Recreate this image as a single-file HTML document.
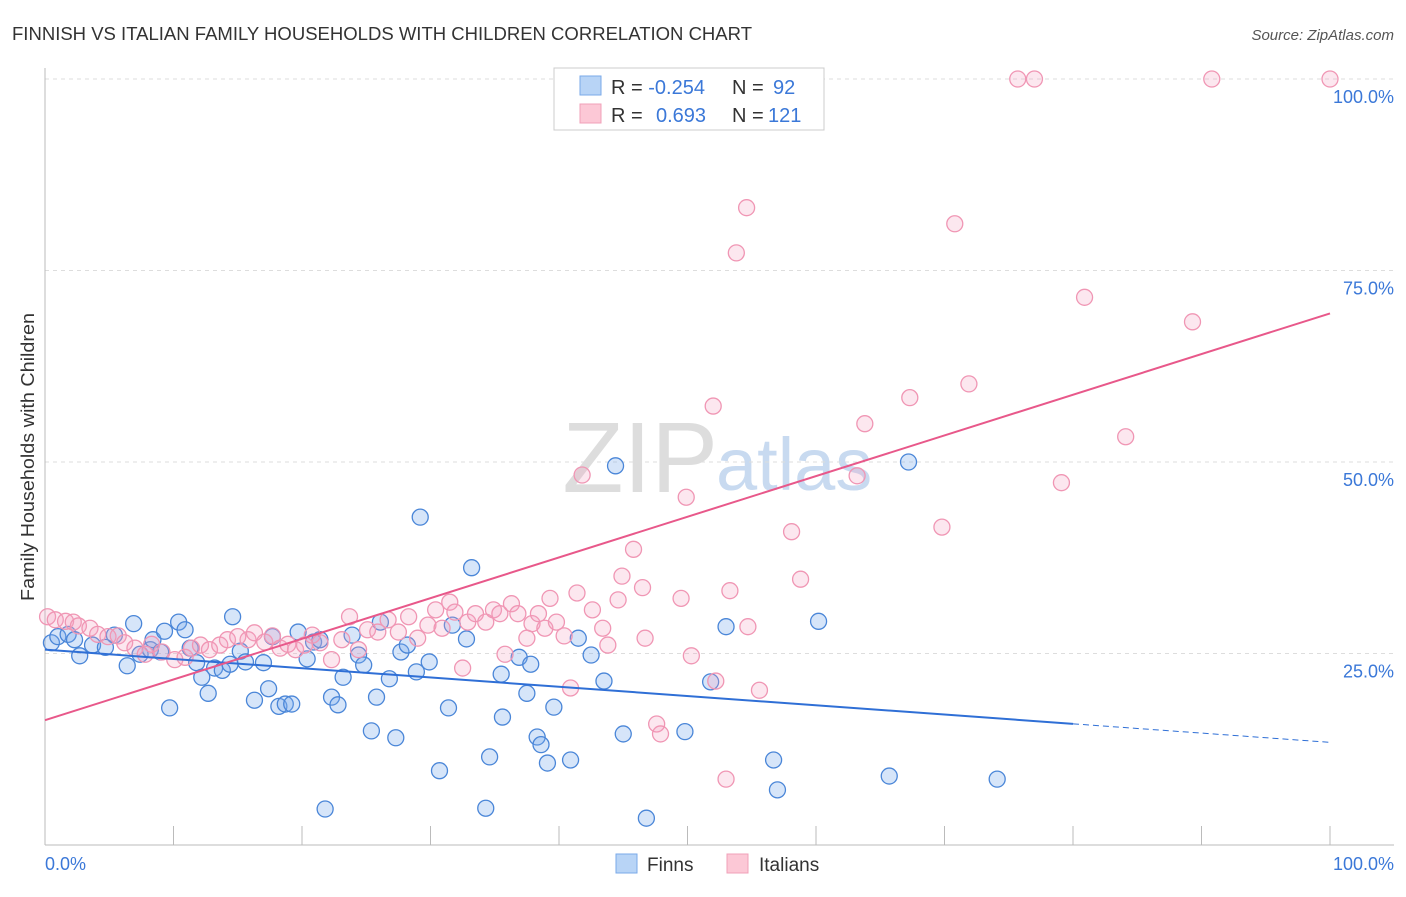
<!DOCTYPE html>
<html><head><meta charset="utf-8"><style>
body{margin:0;background:#fff;font-family:"Liberation Sans",sans-serif;}
svg text{font-family:"Liberation Sans",sans-serif;}
</style></head><body>
<svg id="chart" width="1406" height="892" xmlns="http://www.w3.org/2000/svg">
<text x="12" y="40" font-size="18" fill="#333" textLength="740" lengthAdjust="spacingAndGlyphs">FINNISH VS ITALIAN FAMILY HOUSEHOLDS WITH CHILDREN CORRELATION CHART</text>
<text x="1394" y="40" font-size="15" fill="#555" font-style="italic" text-anchor="end">Source: ZipAtlas.com</text>
<text x="718" y="492" font-size="100" fill="#ddd" font-family="Liberation Serif" text-anchor="end">ZIP</text>
<text x="716" y="490" font-size="74" fill="#c8daf0">atlas</text>
<g id="grid"></g>
<g id="axes"></g>
<g id="pts"></g>
<g id="lines"></g>
<text transform="translate(34,457) rotate(-90)" font-size="18" fill="#333" text-anchor="middle" textLength="288" lengthAdjust="spacingAndGlyphs">Family Households with Children</text>
<text x="45" y="870" font-size="18" fill="#3b78d8">0.0%</text>
<text x="1394" y="870" font-size="18" fill="#3b78d8" text-anchor="end">100.0%</text>
<g>
<rect x="554" y="68" width="270" height="62" fill="#fff" stroke="#ccc"/>
<rect x="580" y="76" width="21" height="19" fill="#b8d4f6" stroke="#7aaae8"/>
<text x="611" y="94" font-size="20" fill="#333">R = <tspan fill="#3b78d8">-0.254</tspan><tspan x="732">N = </tspan><tspan x="773" fill="#3b78d8">92</tspan></text>
<rect x="580" y="104" width="21" height="19" fill="#fcc8d6" stroke="#f0a0b8"/>
<text x="611" y="122" font-size="20" fill="#333">R = <tspan x="656" fill="#3b78d8">0.693</tspan><tspan x="732">N = </tspan><tspan x="768" fill="#3b78d8">121</tspan></text>
</g>
<g>
<rect x="616" y="854" width="21" height="19" fill="#b8d4f6" stroke="#7aaae8"/>
<text x="647" y="871" font-size="19" fill="#333">Finns</text>
<rect x="727" y="854" width="21" height="19" fill="#fcc8d6" stroke="#f0a0b8"/>
<text x="759" y="871" font-size="19" fill="#333">Italians</text>
</g>
</svg>
<script>
const yTicks=[25,50,75,100];
const yTickLabels=["25.0%","50.0%","75.0%","100.0%"];
const xTicks=[0,10,20,30,40,50,60,70,80,90,100];
const finns=[[0.5,26.4],[1,27.2],[1.8,27.5],[2.3,26.8],[2.7,24.7],[3.7,26.1],[4.7,25.8],[5.4,27.4],[6.4,23.4],[6.9,28.9],[7.4,24.9],[8.2,25.5],[8.4,26.8],[9,25.2],[9.3,27.9],[9.7,17.9],[10.4,29.1],[10.9,28.1],[11.3,25.7],[11.8,23.8],[12.2,21.9],[12.7,19.8],[13.2,23.1],[13.8,22.8],[14.4,23.6],[14.6,29.8],[15.2,25.3],[15.6,23.9],[16.3,18.9],[17,23.8],[17.4,20.4],[17.7,27.2],[18.2,18.1],[18.7,18.4],[19.2,18.4],[19.7,27.8],[20.4,24.3],[20.9,26.5],[21.4,26.8],[21.8,4.7],[22.3,19.3],[22.8,18.3],[23.2,21.9],[23.9,27.4],[24.4,24.8],[24.8,23.5],[25.4,14.9],[25.8,19.3],[26.1,29.1],[26.8,21.7],[27.3,14],[27.7,25.2],[28.2,26.1],[28.9,22.6],[29.2,42.8],[29.9,23.9],[30.7,9.7],[31.4,17.9],[31.7,28.7],[32.8,26.9],[33.2,36.2],[34.3,4.8],[34.6,11.5],[35.5,22.3],[35.6,16.7],[36.9,24.5],[37.5,19.8],[37.8,23.6],[38.3,14.1],[38.6,13.1],[39.1,10.7],[39.6,18],[40.9,11.1],[41.5,27],[42.5,24.8],[43.5,21.4],[44.4,49.5],[45,14.5],[46.8,3.5],[49.8,14.8],[51.8,21.3],[53,28.5],[56.7,11.1],[57,7.2],[60.2,29.2],[65.7,9],[67.2,50],[74.1,8.6]];
const italians=[[0.2,29.8],[0.8,29.4],[1.6,29.2],[2.2,29.1],[2.6,28.6],[3.5,28.3],[4.1,27.5],[4.9,27.2],[5.7,27.3],[6.2,26.4],[7,25.7],[7.8,24.9],[8.3,26.2],[9.1,25.2],[10.1,24.2],[10.9,24.5],[11.4,25.7],[12.1,26.1],[12.8,25.5],[13.6,26.1],[14.2,26.8],[15,27.2],[15.8,26.8],[16.3,27.7],[17.1,26.5],[17.7,27.3],[18.3,25.7],[18.9,26.2],[19.5,25.5],[20.2,26.1],[20.8,27.4],[21.4,26.4],[22.3,24.2],[23.1,26.8],[23.7,29.8],[24.4,25.5],[25.1,28.1],[25.9,27.8],[26.7,29.4],[27.5,27.8],[28.3,29.8],[29,27],[29.8,28.7],[30.4,30.7],[30.9,28.3],[31.5,31.7],[31.9,30.4],[32.5,23.1],[32.9,29.1],[33.5,30.2],[34.3,29.1],[34.9,30.7],[35.4,30.2],[35.8,24.9],[36.3,31.5],[36.8,30.2],[37.5,27],[37.9,28.9],[38.4,30.2],[38.9,28.3],[39.3,32.2],[39.8,29.1],[40.4,27.3],[40.9,20.5],[41.4,32.9],[41.8,48.3],[42.6,30.7],[43.4,28.3],[43.8,26.1],[44.6,32],[44.9,35.1],[45.8,38.6],[46.5,33.6],[46.7,27],[47.6,15.8],[47.9,14.5],[49.5,32.2],[49.9,45.4],[50.3,24.7],[52,57.3],[52.2,21.4],[53,8.6],[53.3,33.2],[53.8,77.3],[54.6,83.2],[54.7,28.5],[55.6,20.2],[58.1,40.9],[58.8,34.7],[63.2,48.2],[63.8,55],[67.3,58.4],[69.8,41.5],[70.8,81.1],[71.9,60.2],[75.7,100],[77,100],[79.1,47.3],[80.9,71.5],[84.1,53.3],[89.3,68.3],[90.8,100],[100,100]];
const finnsTrend=[25.5,13.4];
const italiansTrend=[16.3,69.4];
const finnsSolidEnd=80;
const NS="http://www.w3.org/2000/svg";
const X=v=>45+v*12.85, Y=v=>845-v*7.66;
function mk(t,a,p){const e=document.createElementNS(NS,t);for(const k in a)e.setAttribute(k,a[k]);p.appendChild(e);return e;}
const grid=document.getElementById('grid'),axes=document.getElementById('axes'),pts=document.getElementById('pts'),lines=document.getElementById('lines');
yTicks.forEach((t,i)=>{
const g=mk('line',{x1:45,x2:1394,y1:Y(t),y2:Y(t),stroke:'#ddd','stroke-dasharray':'4,4'},grid);


const l=mk('text',{x:1394,y:Y(t)+24,'font-size':18,fill:'#3b78d8','text-anchor':'end'},axes);
l.textContent=yTickLabels[i];


});
const ax=mk('line',{x1:45,x2:1394,y1:845,y2:845,stroke:'#bbb'},axes);


const ay=mk('line',{x1:45,x2:45,y1:68,y2:845,stroke:'#bbb'},axes);


xTicks.forEach(t=>{
const k=mk('line',{x1:X(t),x2:X(t),y1:826,y2:845,stroke:'#bbb'},axes);


});
finns.forEach(d=>{
const c=mk('circle',{cx:X(d[0]),cy:Y(d[1]),r:8,fill:'rgba(120,170,235,0.3)',stroke:'#4a86d8','stroke-width':1.3},pts);


});
italians.forEach(d=>{
const c=mk('circle',{cx:X(d[0]),cy:Y(d[1]),r:8,fill:'rgba(245,160,190,0.25)',stroke:'#f096b4','stroke-width':1.3},pts);


});
const fy=x=>finnsTrend[0]+(finnsTrend[1]-finnsTrend[0])*x/100;
const f1=mk('line',{x1:X(0),y1:Y(fy(0)),x2:X(finnsSolidEnd),y2:Y(fy(finnsSolidEnd)),stroke:'#2f6fd6','stroke-width':2},lines);


const f2=mk('line',{x1:X(finnsSolidEnd),y1:Y(fy(finnsSolidEnd)),x2:X(100),y2:Y(fy(100)),stroke:'#2f6fd6','stroke-width':1,'stroke-dasharray':'6,4'},lines);


const it=mk('line',{x1:X(0),y1:Y(italiansTrend[0]),x2:X(100),y2:Y(italiansTrend[1]),stroke:'#e8588a','stroke-width':2},lines);


</script>
</body></html>
